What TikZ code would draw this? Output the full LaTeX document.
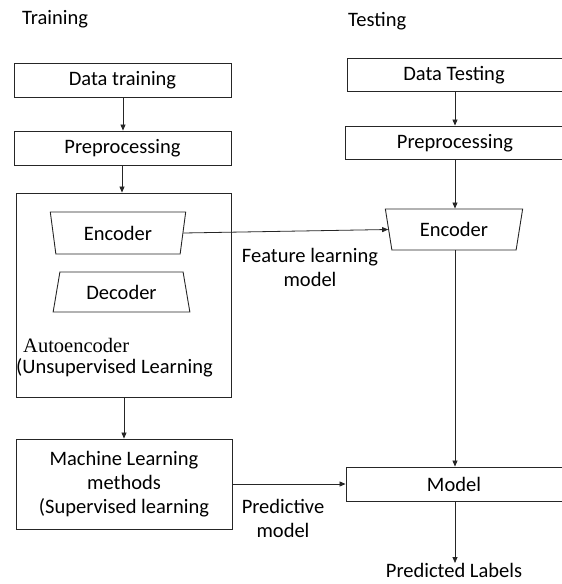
\documentclass[tikz,border=0pt]{standalone}
\usepackage{fontspec}
\setmainfont{Carlito}
\newfontfamily\serifface{Liberation Serif}
\usepackage{tikz}
\usetikzlibrary{shapes, shapes.geometric, arrows.meta, positioning}

\begin{document}
\begin{tikzpicture}[
    % GLOBAL CFG
    x=1pt, y=-1pt,
    font=\fontsize{20.5}{24}\selectfont,
    >={Triangle[length=6pt,width=5pt]},
    % Styles
    block/.style={% For the plain boxes
        rectangle,
        draw=black!85,
        line width=.9pt,
        inner sep=0pt,
        align=center,
        },
    enctrap/.style={% For the encoder (wide on top)
        trapezium,
        draw=black!85,
        line width=.9pt,
        trapezium stretches=true,
        shape border rotate=180,
        inner sep=0pt,
        },
    dectrap/.style={% For the decoder (wide at the bottom)
        trapezium,
        draw=black!85,
        line width=.9pt,
        trapezium stretches=true,
        inner sep=0pt,
        },
    mylabel/.style={% free text
        align=center,
        inner sep=0pt,
        },
    Arrow/.style={% connectors
        ->,
        line width=.8pt,
        draw=black!85,
        }
    ]

    \clip (0,0) rectangle (562,584);
    \useasboundingbox (0,0) rectangle (562,584);

    % Titles
    \node [mylabel, anchor=west] (ttrain) at (22,19) {Training};
    \node [mylabel, anchor=west] (ttest) at (348,21) {Testing};

    % Training side
    \node [block, minimum width=217, minimum height=34] (dtrain) at (122.5,80) {Data training};
    \node [block, minimum width=217, minimum height=34] (prep1) at (122.5,148) {Preprocessing};
    \node [block, minimum width=215, minimum height=204] (auto) at (123.5,295) {};
    \node [enctrap, trapezium left angle=78, trapezium right angle=78,
           minimum width=136, minimum height=42] (enc1) at (118,233) {Encoder};
    \node [dectrap, trapezium left angle=75, trapezium right angle=75,
           minimum width=137, minimum height=40] (dec1) at (121.5,292) {Decoder};
    \node [mylabel, anchor=west] (autot) at (23,345) {\serifface Autoencoder};
    \node [mylabel, anchor=west] (autos) at (16,368) {(Unsupervised Learning};
    \node [block, minimum width=216, minimum height=90] (ml) at (124,484)
        {Machine Learning\\methods\\(Supervised learning};

    % Testing side
    \node [block, minimum width=217, minimum height=33] (dtest) at (455.5,74.5) {};
    \node [mylabel] (dtestt) at (454,75.5) {Data Testing};
    \node [block, minimum width=219, minimum height=33] (prep2) at (454.5,142.5) {};
    \node [mylabel] (prep2t) at (455,143.5) {Preprocessing};
    \node [enctrap, trapezium left angle=76, trapezium right angle=76,
           minimum width=138, minimum height=41] (enc2) at (454,229.5) {Encoder};
    \node [block, minimum width=218, minimum height=34] (model) at (455,484) {};
    \node [mylabel] (modelt) at (454,484) {Model};
    \node [mylabel, anchor=north] (plabel) at (454,563) {Predicted Labels};

    % Connector labels
    \node [mylabel] (featl) at (310,267) {Feature learning\\model};
    \node [mylabel] (predl) at (283,518) {Predictive\\model};

    % Connecting all
    \draw [Arrow] (dtrain.south -| 123,0) -- (prep1.north -| 123,0);
    \draw [Arrow] (prep1.south -| 122,0) -- (auto.north -| 122,0);
    \draw [Arrow] (auto.south -| 124,0) -- (ml.north -| 124,0);
    \draw [Arrow] (enc1.east) -- (enc2.west);
    \draw [Arrow] (ml.east) -- (model.west);

    \draw [Arrow] (dtest.south -| 455,0) -- (prep2.north -| 455,0);
    \draw [Arrow] (prep2.south -| 455,0) -- (enc2.north -| 455,0);
    \draw [Arrow] (enc2.south -| 455,0) -- (model.north -| 455,0);
    \draw [Arrow] (model.south -| 455,0) -- (plabel.north -| 455,0);

\end{tikzpicture}
\end{document}
